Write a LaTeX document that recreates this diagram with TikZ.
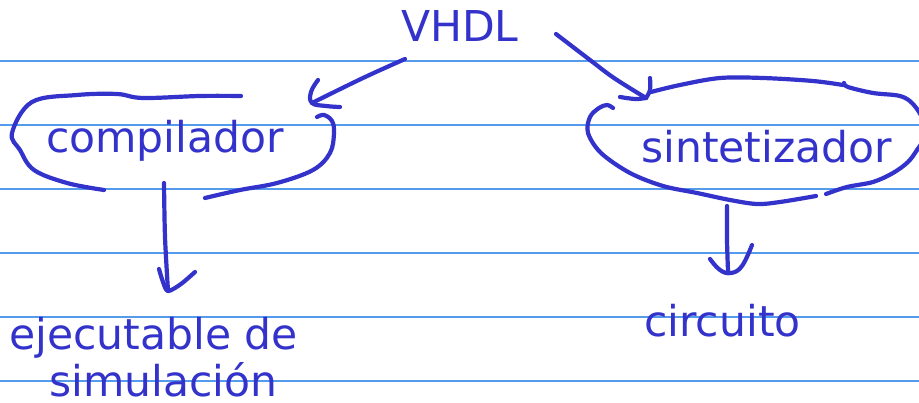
\documentclass[tikz,border=0pt]{standalone}
\usepackage{fontspec}
\setmainfont{DejaVu Sans}
\definecolor{ink}{RGB}{51,51,204}
\definecolor{rule}{RGB}{85,155,235}
\begin{document}
\begin{tikzpicture}[x=1pt,y=-1pt,
  label/.style={text=ink,font=\fontsize{42.5}{50}\selectfont,inner sep=0pt,anchor=base west},
  pen/.style={draw=ink,line width=4.2pt,line cap=round,line join=round},
  ruling/.style={draw=rule,line width=1.6pt}]
\useasboundingbox (0,0) rectangle (919,403);
\clip (0,0) rectangle (919,403);
% notebook ruling
\foreach \yy in {61,125,189,253,317,381}
  \draw[ruling] (0,\yy) -- (919,\yy);

% words
\node[label] (vhdl) at (401,42) {VHDL};
\node[label] (comp) at (46,153) {compilador};
\node[label] (sint) at (641,163) {sintetizador};
\node[label] (ejec) at (9,350) {ejecutable de};
\node[label] (simu) at (49,397) {simulación};
\node[label] (circ) at (644,337) {circuito};

% arrow ends
\coordinate (a1s) at (405,59);
\coordinate (a1e) at (312,103);
\coordinate (a2s) at (556,34);
\coordinate (a2e) at (646,98);
\coordinate (a3s) at (164,183);
\coordinate (a3e) at (168,291);
\coordinate (a4s) at (727,206);
\coordinate (a4e) at (728,271);

% VHDL -> compilador
\draw[pen] plot[smooth,tension=0.6] coordinates {(a1s) (363,78) (a1e)};
\draw[pen] plot[smooth,tension=0.7] coordinates {(318,80) (311,92) (a1e) (326,106) (340,107)};

% compilador loop
\draw[pen] plot[smooth,tension=0.6] coordinates {(241,96) (200,96) (143,98) (117,94) (77,95) (32,102) (12,133) (20,150) (34,170) (67,183) (104,190)};
\draw[pen] plot[smooth,tension=0.6] coordinates {(317,117) (324,115) (332,121) (334,133) (330,153) (313,170) (277,183) (240,190) (205,198)};

% compilador -> ejecutable de simulacion
\draw[pen] plot[smooth,tension=0.5] coordinates {(a3s) (165,237) (a3e)};
\draw[pen] plot[smooth,tension=0.5] coordinates {(159,269) (163,282) (a3e) (181,284) (195,272)};

% VHDL -> sintetizador
\draw[pen] plot[smooth,tension=0.6] coordinates {(a2s) (590,60) (614,78) (a2e)};
\draw[pen] plot[smooth,tension=0.6] coordinates {(620,97) (635,99) (a2e)};
\draw[pen] plot[smooth,tension=0.6] coordinates {(650,78) (650,90) (a2e)};

% sintetizador loop
\draw[pen] plot[smooth,tension=0.55] coordinates {(651,92) (680,85) (720,78) (763,78) (813,81) (843,85)};
\draw[pen] plot[smooth,tension=0.55] coordinates {(844,83) (848,87) (873,93) (900,96) (913,104) (923,120) (924,138) (917,150) (908,162) (893,173) (873,182) (847,187) (826,194)};
\draw[pen] plot[smooth,tension=0.55] coordinates {(816,196) (780,202) (757,204) (730,200) (697,193) (663,186) (630,173) (601,153) (588,133) (590,117) (599,108) (607,105) (613,108)};

% sintetizador -> circuito
\draw[pen] plot[smooth,tension=0.5] coordinates {(a4s) (727,240) (a4e)};
\draw[pen] plot[smooth,tension=0.7] coordinates {(710,259) (720,270) (731,273) (742,266) (752,245)};
\end{tikzpicture}
\end{document}
